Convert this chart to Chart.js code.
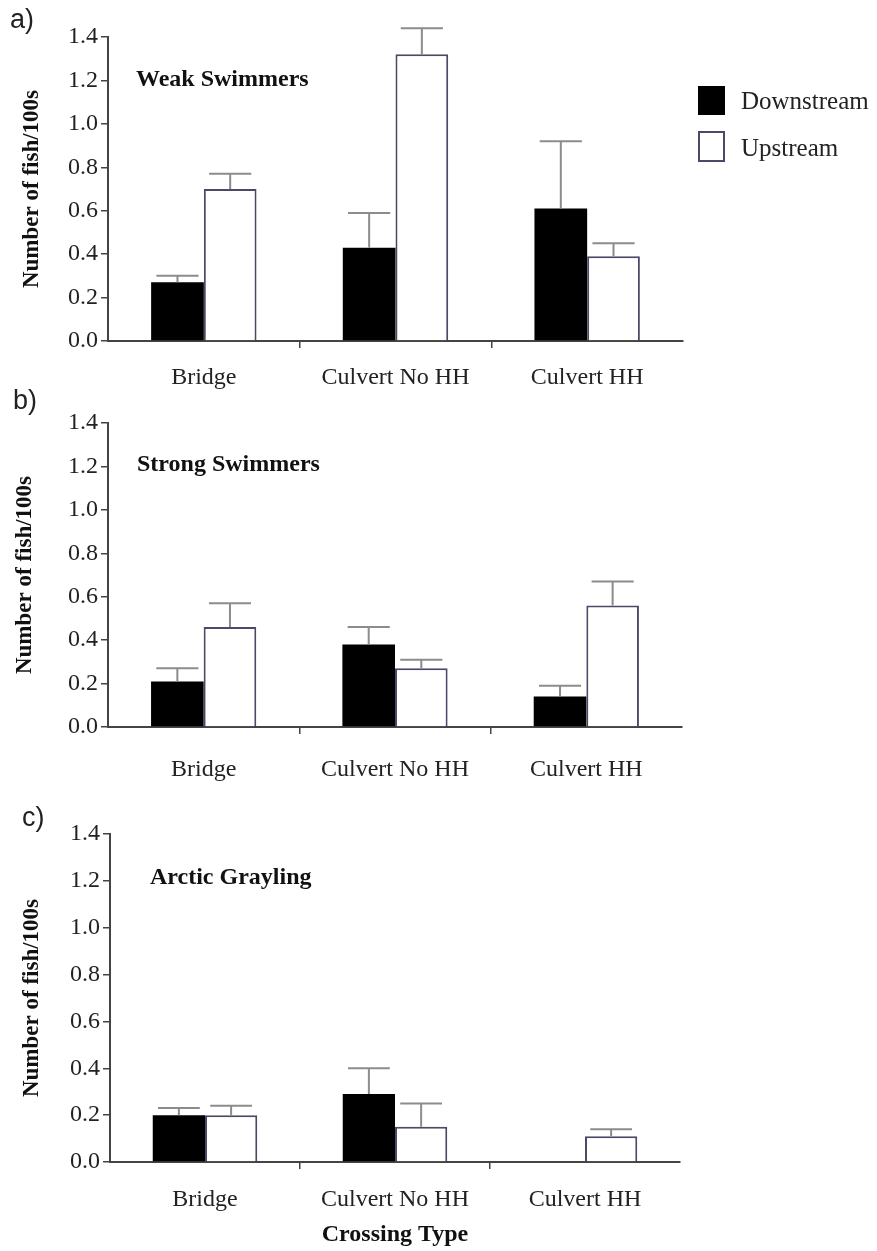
<!DOCTYPE html>
<html><head><meta charset="utf-8">
<script src="https://cdn.jsdelivr.net/npm/chart.js@4.4.1/dist/chart.umd.min.js"></script>
<style>
html,body{margin:0;padding:0;background:#fff}
body{width:877px;height:1251px;position:relative;overflow:hidden}
canvas{position:absolute;left:0}
.t{position:absolute;white-space:nowrap;color:#111;line-height:1}
.letter{font-family:"Liberation Sans",Arial,sans-serif;font-size:27px;color:#222}
.ptitle{font-family:"Liberation Serif","Times New Roman",serif;font-weight:bold;font-size:24px}
.leg{font-family:"Liberation Serif","Times New Roman",serif;font-size:25px;color:#222}
.sw{position:absolute;box-sizing:border-box}
</style></head><body>
<canvas id="cA" width="877" height="395" style="top:0px"></canvas>
<canvas id="cB" width="877" height="395" style="top:395px"></canvas>
<canvas id="cC" width="877" height="461" style="top:790px"></canvas>

<div class="t letter" style="left:10px;top:6px">a)</div>
<div class="t letter" style="left:13px;top:387px">b)</div>
<div class="t letter" style="left:22px;top:804px">c)</div>

<div class="t ptitle" style="left:136px;top:66px">Weak Swimmers</div>
<div class="t ptitle" style="left:137px;top:451px">Strong Swimmers</div>
<div class="t ptitle" style="left:150px;top:864px">Arctic Grayling</div>

<div id="legend"></div>

<script>
// ---------- data ----------
const categories = ['Bridge', 'Culvert No HH', 'Culvert HH'];
const seriesNames = ['Downstream', 'Upstream'];
const yTickLabels = ['0.0', '0.2', '0.4', '0.6', '0.8', '1.0', '1.2', '1.4'];
const yAxisTitle = 'Number of fish/100s';
const xAxisTitle = 'Crossing Type';

// a) Weak swimmers (mean, and top of error bar)
const weakDown    = [0.27, 0.43, 0.61];
const weakDownErr = [0.30, 0.59, 0.92];
const weakUp      = [0.70, 1.32, 0.39];
const weakUpErr   = [0.77, 1.44, 0.45];

// b) Strong swimmers
const strongDown    = [0.21, 0.38, 0.14];
const strongDownErr = [0.27, 0.46, 0.19];
const strongUp      = [0.46, 0.27, 0.56];
const strongUpErr   = [0.57, 0.31, 0.67];

// c) Arctic grayling
const grayDown    = [0.20, 0.29, 0.00];
const grayDownErr = [0.23, 0.40, 0.00];
const grayUp      = [0.20, 0.15, 0.11];
const grayUpErr   = [0.24, 0.25, 0.14];

// ---------- styles ----------
const AXIS = '#444';
const DOWN_FILL = '#000000';
const UP_FILL = '#ffffff';
const UP_BORDER = '#4a4a68';
const ERR = '#8c8c8c';
const SERIF = '"Liberation Serif","Times New Roman",serif';
const HIDDEN = 'rgba(0,0,0,0)';

const errorBars = {
  id: 'errorBars',
  afterDatasetsDraw(chart) {
    const ctx = chart.ctx;
    const ys = chart.scales.y;
    chart.data.datasets.forEach((ds, di) => {
      const meta = chart.getDatasetMeta(di);
      meta.data.forEach((bar, i) => {
        const hi = ds.errHigh[i];
        if (!(hi > ds.data[i])) return;
        const yTop = ys.getPixelForValue(hi);
        const yBase = bar.y;
        const x = bar.x;
        const half = bar.width * 0.4;
        ctx.save();
        ctx.strokeStyle = ERR;
        ctx.lineWidth = 2;
        ctx.beginPath();
        ctx.moveTo(x, yBase);
        ctx.lineTo(x, yTop);
        ctx.moveTo(x - half, yTop);
        ctx.lineTo(x + half, yTop);
        ctx.stroke();
        ctx.restore();
      });
    });
  }
};

function makeChart(id, down, downErr, up, upErr, g) {
  return new Chart(document.getElementById(id), {
    type: 'bar',
    data: {
      labels: categories,
      datasets: [
        { label: seriesNames[0], data: down, errHigh: downErr,
          backgroundColor: DOWN_FILL, borderWidth: 0,
          categoryPercentage: 0.55, barPercentage: 1.0 },
        { label: seriesNames[1], data: up, errHigh: upErr,
          backgroundColor: UP_FILL, borderColor: UP_BORDER, borderWidth: 2,
          categoryPercentage: 0.55, barPercentage: 1.0 }
      ]
    },
    options: {
      responsive: false,
      animation: false,
      layout: { padding: { top: g.top, right: g.right, left: 0, bottom: 0 } },
      plugins: { legend: { display: false }, tooltip: { enabled: false } },
      scales: {
        x: {
          afterFit: s => { s.height = g.xh; },
          grid: { drawOnChartArea: false, drawTicks: true, tickLength: 7, offset: true,
                  lineWidth: 1.5,
                  color: c => (c.tick === undefined || c.index === 0 || c.index >= 3) ? HIDDEN : AXIS },
          border: { display: true, color: AXIS, width: 2 },
          ticks: { color: '#222', padding: g.xpad, font: { family: SERIF, size: 24 } },
          title: { display: !!g.xTitle, text: xAxisTitle, color: '#111',
                   font: { family: SERIF, size: 24, weight: 'bold' },
                   padding: { top: 4, bottom: 2 } }
        },
        y: {
          min: 0, max: 1.4,
          afterFit: s => { s.width = g.yw; },
          grid: { drawOnChartArea: false, drawTicks: true, tickLength: 7, color: AXIS, lineWidth: 1.5 },
          border: { display: true, color: AXIS, width: 2 },
          ticks: { stepSize: 0.2, color: '#222', padding: 3,
                   font: { family: SERIF, size: 24 },
                   callback: (v, i) => yTickLabels[i] },
          title: { display: true, text: yAxisTitle, color: '#111',
                   font: { family: SERIF, size: 23, weight: 'bold' },
                   padding: { top: g.ytp, bottom: 0 } }
        }
      }
    },
    plugins: [errorBars]
  });
}

const chartA = makeChart('cA', weakDown, weakDownErr, weakUp, weakUpErr,
  { top: 37, right: 194, xh: 54, yw: 108, ytp: 18, xpad: 15 });
const chartB = makeChart('cB', strongDown, strongDownErr, strongUp, strongUpErr,
  { top: 28, right: 195, xh: 63, yw: 108, ytp: 11, xpad: 21 });
const chartC = makeChart('cC', grayDown, grayDownErr, grayUp, grayUpErr,
  { top: 44, right: 197, xh: 89, yw: 110, ytp: 18, xpad: 16, xTitle: true });

// legend built from the dataset styles
(function () {
  const host = document.getElementById('legend');
  const ds = chartA.data.datasets;
  const items = [
    { top: 86, h: 29, textTop: 88 },
    { top: 131, h: 31, textTop: 135 }
  ];
  ds.forEach((d, i) => {
    const sw = document.createElement('div');
    sw.className = 'sw';
    sw.style.left = '698px';
    sw.style.top = items[i].top + 'px';
    sw.style.width = '27px';
    sw.style.height = items[i].h + 'px';
    sw.style.background = d.backgroundColor;
    if (d.borderWidth) sw.style.border = d.borderWidth + 'px solid ' + d.borderColor;
    host.appendChild(sw);
    const tx = document.createElement('div');
    tx.className = 't leg';
    tx.style.left = '741px';
    tx.style.top = items[i].textTop + 'px';
    tx.textContent = d.label;
    host.appendChild(tx);
  });
})();
</script>
</body></html>
